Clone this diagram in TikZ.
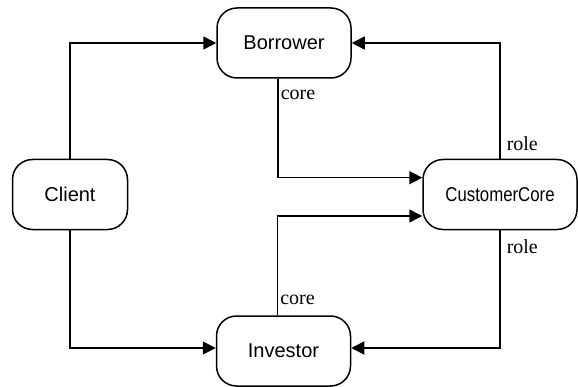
\documentclass[tikz,border=0pt]{standalone}
\usepackage{fontspec}
\setmainfont{Liberation Serif}
\newfontfamily\boxfont{Liberation Sans}
\newfontfamily\narrowfont[FakeStretch=0.84]{Liberation Sans}
\usetikzlibrary{arrows.meta}
\begin{document}
\begin{tikzpicture}[x=1pt, y=1pt,
	party/.style={draw, line width=1.5pt, rounded corners=20pt,
		minimum height=70pt, font=\boxfont\fontsize{20}{23}\selectfont},
	link/.style={line width=1.5pt, -{Triangle[length=13pt, width=13pt]}},
	tag/.style={font=\fontsize{20}{23}\selectfont, inner sep=2pt}]
	\useasboundingbox (0, 0) rectangle (578, 386);
	% Parties.
	\node[party, minimum width=115pt] (client) at (70, 191.5) {Client};
	\node[party, minimum width=134pt] (borrower) at (284, 343) {Borrower};
	\node[party, minimum width=134pt] (investor) at (283.5, 35) {Investor};
	\node[party, minimum width=154pt, font=\narrowfont\fontsize{20}{23}\selectfont]
		(custcore) at (500, 191.5) {CustomerCore};
	% Client to both roles.
	\draw[link] (client.north) |- (borrower.west);
	\draw[link] (client.south) |- ([yshift=3pt]investor.west);
	% Roles to core.
	\draw[link] ([xshift=-6pt]borrower.south) |- ([yshift=16.8pt]custcore.west)
		node[tag, pos=0.08, right] {core};
	\draw[link] ([xshift=-6pt]investor.north) |- ([yshift=-21.5pt]custcore.west)
		node[tag, pos=0.075, right] {core};
	% Core back to roles.
	\draw[link] (custcore.north) |- (borrower.east)
		node[tag, pos=0.064, right, xshift=4pt] {role};
	\draw[link] (custcore.south) |- ([yshift=3pt]investor.east)
		node[tag, pos=0.07, right, xshift=4pt] {role};
\end{tikzpicture}
\end{document}
